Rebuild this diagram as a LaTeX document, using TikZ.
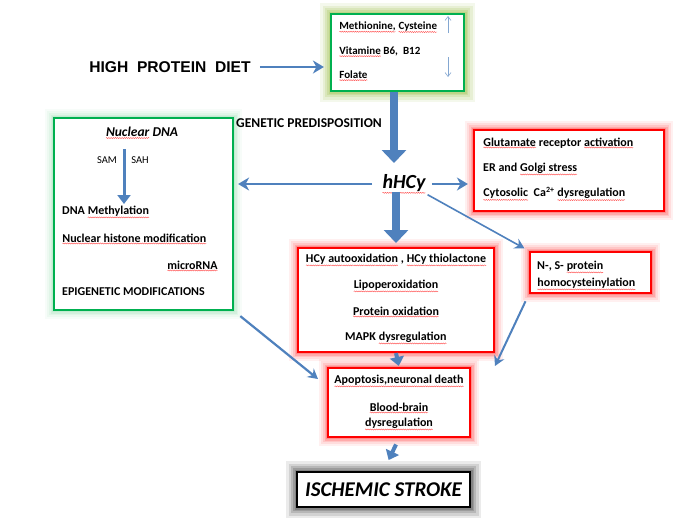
\documentclass[tikz,border=0pt]{standalone}
\usepackage{fontspec}
\setmainfont{Carlito}
\newfontfamily\arialf{Liberation Sans}
\usetikzlibrary{arrows.meta,decorations.pathmorphing}
\definecolor{arrowblue}{HTML}{4F81BD}
\definecolor{boxgreen}{HTML}{00B050}
\definecolor{glowolive}{HTML}{9CBF45}
\definecolor{glowgreen}{HTML}{7FD89F}
\newcommand\sq[1]{\tikz[baseline=(sqw.base)]{\node[inner sep=0pt,outer sep=0pt](sqw){#1};\draw[red!75,line width=0.35pt,decorate,decoration={snake,amplitude=0.55pt,segment length=2.2pt}]([yshift=-1.2pt]sqw.south west)--([yshift=-1.2pt]sqw.south east);}}
\begin{document}
\begin{tikzpicture}[x=1pt,y=-1pt,
  glow/.style={preaction={draw=#1,draw opacity=.06,line width=18pt},
               preaction={draw=#1,draw opacity=.08,line width=14pt},
               preaction={draw=#1,draw opacity=.10,line width=10pt},
               preaction={draw=#1,draw opacity=.14,line width=7pt},
               preaction={draw=#1,draw opacity=.18,line width=4.5pt}},
  strongglow/.style={preaction={draw=#1,draw opacity=.10,line width=22pt},
               preaction={draw=#1,draw opacity=.14,line width=17pt},
               preaction={draw=#1,draw opacity=.18,line width=12pt},
               preaction={draw=#1,draw opacity=.22,line width=8pt},
               preaction={draw=#1,draw opacity=.26,line width=5pt}},
  box/.style={draw=#1,line width=2.2pt,fill=white,inner sep=0pt,rectangle},
  txt/.style={inner sep=0pt,font=\bfseries\fontsize{12}{14}\selectfont},
  medarrow/.style={draw=arrowblue,line width=2.6pt,-{Stealth[length=11pt,width=13pt,inset=3.5pt]}},
  thinarrow/.style={draw=arrowblue,line width=1.6pt,-{Stealth[length=10pt,width=11pt,inset=3.5pt]}},
  blockarrow/.style={draw=arrowblue,line width=8pt,-{Triangle[length=13pt,width=24pt]}},
  smallblock/.style={draw=arrowblue,line width=4pt,-{Triangle[length=9pt,width=14pt]}},
  hairarrow/.style={draw=arrowblue!70,line width=0.6pt,-{Straight Barb[length=4pt,width=6pt]}}
]
\useasboundingbox (0,0) rectangle (687,525);
\fill[white] (0,0) rectangle (687,525);

% boxes
\node[box=boxgreen,strongglow=glowolive,minimum width=133pt,minimum height=77pt] (topbox) at (397.5,52.5) {};
\node[box=boxgreen,glow=glowgreen,minimum width=179pt,minimum height=192pt] (leftbox) at (143.5,214) {};
\node[box=red,glow=red,minimum width=190pt,minimum height=81pt] (rightbox) at (569,170.5) {};
\node[box=red,glow=red,minimum width=196pt,minimum height=104pt] (midbox) at (396,300) {};
\node[box=red,glow=red,minimum width=121pt,minimum height=41pt] (nsbox) at (590.5,272.5) {};
\node[box=red,glow=red,minimum width=142pt,minimum height=69pt] (apop) at (399,402.5) {};
\node[box=black,strongglow=black!75,minimum width=173pt,minimum height=35pt] (isch) at (383.5,489.5) {};

% top box text
\node[txt,anchor=west,font=\bfseries\fontsize{11}{13}\selectfont] (t1) at (339,27) {\sq{Methionine,} \sq{Cysteine}};
\node[txt,anchor=west,font=\bfseries\fontsize{11}{13}\selectfont] (t2) at (339,52) {\sq{Vitamine} B6,\ \ B12};
\node[txt,anchor=west,font=\bfseries\fontsize{11}{13}\selectfont] (t3) at (339,76) {\sq{Folate}};
\coordinate (ua1) at (448,33); \coordinate (ua2) at (448,16);
\coordinate (da1) at (448,57); \coordinate (da2) at (448,77);
\draw[hairarrow] (ua1) -- (ua2);
\draw[hairarrow] (da1) -- (da2);

% high protein diet
\node[inner sep=0pt,font=\arialf\bfseries\fontsize{15.6}{18}\selectfont] (hpd) at (170,67) {HIGH\ \ PROTEIN\ \ DIET};
\draw[medarrow,shorten <=9pt,shorten >=6pt] (hpd.east) -- (topbox.west |- hpd.east);

% genetic predisposition
\node[txt,anchor=west,font=\bfseries\fontsize{13.5}{15}\selectfont] (gen) at (236,123) {GENETIC PREDISPOSITION};

% hHCy
\node[inner sep=0pt,font=\bfseries\itshape\fontsize{20}{24}\selectfont] (hhcy) at (404,184) {\sq{hHCy}};
\coordinate (bigtip) at (394,163);
\draw[blockarrow] (topbox.south -| bigtip) -- (bigtip);
\draw[medarrow,shorten <=10pt,shorten >=4pt] (hhcy.west) -- (leftbox.east |- hhcy.west);
\draw[medarrow,shorten <=6pt,shorten >=5pt] (hhcy.east) -- (rightbox.west |- hhcy.east);
\coordinate (downtip) at (396,243);
\draw[blockarrow] ([yshift=2pt]hhcy.south -| downtip) -- (downtip);
\draw[thinarrow,shorten <=2pt,shorten >=5pt] (hhcy.south east) -- (nsbox.north west);

% left box text
\node[txt,font=\bfseries\itshape\fontsize{13.5}{16}\selectfont] (nuc) at (142,133) {\sq{Nuclear} DNA};
\node[inner sep=0pt,font=\fontsize{10.5}{12}\selectfont] (sam) at (107,160) {SAM};
\node[inner sep=0pt,font=\fontsize{10.5}{12}\selectfont] (sah) at (140,160) {SAH};
\coordinate (la1) at (124,149); \coordinate (la2) at (124,204);
\draw[smallblock,line width=3pt,-{Triangle[length=9pt,width=13pt]}] (la1) -- (la2);
\node[txt,anchor=west] (l1) at (62,212) {DNA \sq{Methylation}};
\node[txt,anchor=west] (l2) at (62,239) {\sq{Nuclear histone modification}};
\node[txt,anchor=west] (l3) at (167,266) {\sq{microRNA}};
\node[txt,anchor=west] (l4) at (62,292) {EPIGENETIC MODIFICATIONS};

% right box text
\node[txt,anchor=west] (r1) at (483,143) {\sq{Glutamate} receptor \sq{activation}};
\node[txt,anchor=west] (r2) at (483,169) {ER and \sq{Golgi stress}};
\node[txt,anchor=west] (r3) at (483,194) {\sq{Cytosolic}\ \ Ca\textsuperscript{2+} \sq{dysregulation}};

% middle box text
\node[txt] (m1) at (396,260) {\sq{HCy autooxidation} , \sq{HCy thiolactone}};
\node[txt] (m2) at (396,286) {\sq{Lipoperoxidation}};
\node[txt] (m3) at (396,312) {\sq{Protein oxidation}};
\node[txt] (m4) at (396,338) {MAPK \sq{dysregulation}};

% N-S box text
\node[txt,anchor=west] (n1) at (537,267) {N-, S- \sq{protein}};
\node[txt,anchor=west] (n2) at (537,284) {\sq{homocysteinylation}};

% apoptosis box text
\node[txt] (a1) at (399,381) {\sq{Apoptosis,neuronal death}};
\node[txt] (a2) at (399,408) {\sq{Blood-brain}};
\node[txt] (a3) at (399,424) {\sq{dysregulation}};

% ischemic
\node[inner sep=0pt,anchor=west,font=\bfseries\itshape\fontsize{21}{25}\selectfont] (ist) at (305,490) {ISCHEMIC STROKE};

% lower arrows
\coordinate (aptipL) at (318,379);
\draw[thinarrow,line width=2.2pt,shorten <=8pt] (leftbox.south east) -- (aptipL);
\coordinate (nstip) at (495,366);
\draw[thinarrow,line width=2pt,shorten <=8pt] (nsbox.south west) -- (nstip);
\draw[smallblock,shorten >=1pt] (midbox.south) -- (apop.north);
\draw[smallblock,shorten <=7pt,shorten >=12pt] (apop.south) -- (isch.north);
\end{tikzpicture}
\end{document}
